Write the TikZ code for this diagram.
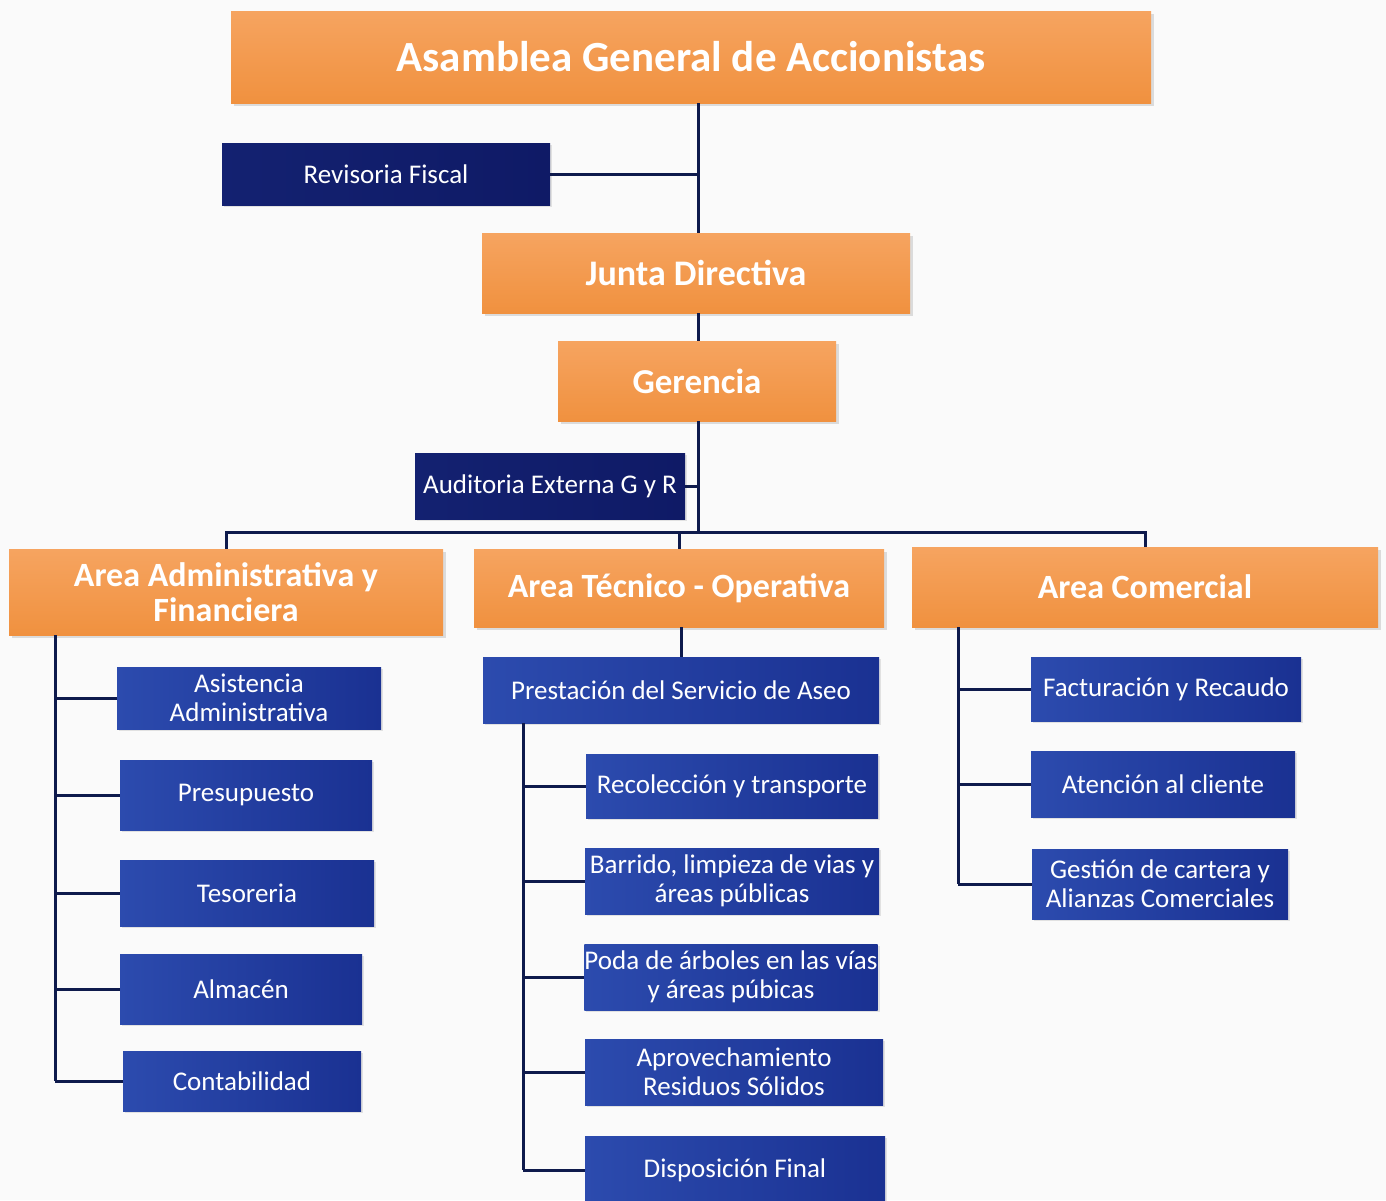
\documentclass[tikz,border=0pt]{standalone}
\usepackage{fontspec}
\setmainfont{Carlito}
\usetikzlibrary{positioning,shadows}
\tikzset{>=stealth}
\definecolor{naranja}{HTML}{F0913F}
\definecolor{naranjaclaro}{HTML}{F6A460}
\definecolor{azul}{HTML}{1A3192}
\definecolor{azulclaro}{HTML}{2C4BAE}
\definecolor{marino}{HTML}{0F1A66}
\definecolor{linea}{HTML}{0E1A4C}
\colorlet{fondo}{white!96!gray}
\tikzset{
	orangebox/.style={rectangle, top color=naranjaclaro, bottom color=naranja, text=white, font=\bfseries, align=center, inner sep=0pt, drop shadow={opacity=.25, shadow xshift=1.5pt, shadow yshift=-1.5pt}},
	bluebox/.style={rectangle, left color=azulclaro, right color=azul, text=white, font=\fontsize{13.5}{14.5}\selectfont, align=center, inner sep=0pt, drop shadow={opacity=.2, shadow xshift=1pt, shadow yshift=-1pt}},
	navybox/.style={bluebox, left color=marino!85!azulclaro, right color=marino},
	link/.style={draw=linea, line width=1.5pt}
}

\begin{document}
\begin{tikzpicture}[x=0.5pt, y=-0.5pt]
				\useasboundingbox[fill=fondo] (0,0) rectangle (1386,1200);
				% direccion
				\node[orangebox, minimum width=460pt, minimum height=46pt, font=\bfseries\fontsize{21.5}{23}\selectfont] (asamblea) at (691,57) {Asamblea General de Accionistas};
				\node[navybox, minimum width=164pt, minimum height=31pt] (revisoria) at (386,174) {Revisoria Fiscal};
				\node[orangebox, minimum width=214pt, minimum height=40pt, font=\bfseries\fontsize{18}{20}\selectfont] (junta) at (696,273) {Junta Directiva};
				\node[orangebox, minimum width=139pt, minimum height=40pt, font=\bfseries\fontsize{17.5}{20}\selectfont] (gerencia) at (697,381) {Gerencia};
				\node[navybox, minimum width=135pt, minimum height=33pt] (auditoria) at (550,486) {Auditoria Externa G y R};
				% areas
				\node[orangebox, minimum width=217pt, minimum height=43pt, font=\bfseries\fontsize{17}{17.5}\selectfont] (areaadm) at (226,592) {Area Administrativa y\\Financiera};
				\node[orangebox, minimum width=205pt, minimum height=39pt, font=\bfseries\fontsize{17}{17.5}\selectfont] (areatec) at (679,588) {Area Técnico - Operativa};
				\node[orangebox, minimum width=233pt, minimum height=40pt, font=\bfseries\fontsize{17}{17.5}\selectfont] (areacom) at (1145,587) {Area Comercial};
				% administrativa
				\node[bluebox, minimum width=132pt, minimum height=31pt] (asistencia) at (249,698) {Asistencia\\Administrativa};
				\node[bluebox, minimum width=126pt, minimum height=35pt] (presupuesto) at (246,795) {Presupuesto};
				\node[bluebox, minimum width=127pt, minimum height=33pt] (tesoreria) at (247,893) {Tesoreria};
				\node[bluebox, minimum width=121pt, minimum height=35pt] (almacen) at (241,989) {Almacén};
				\node[bluebox, minimum width=119pt, minimum height=30pt] (contabilidad) at (242,1081) {Contabilidad};
				% tecnico - operativa
				\node[bluebox, minimum width=198pt, minimum height=33pt] (prestacion) at (681,690) {Prestación del Servicio de Aseo};
				\node[bluebox, minimum width=146pt, minimum height=32pt] (recoleccion) at (732,786) {Recolección y transporte};
				\node[bluebox, minimum width=147pt, minimum height=33pt] (barrido) at (732,881) {Barrido, limpieza de vias y\\áreas públicas};
				\node[bluebox, minimum width=146pt, minimum height=33pt] (poda) at (731,977) {Poda de árboles en las vías\\y áreas púbicas};
				\node[bluebox, minimum width=149pt, minimum height=33pt] (aprovechamiento) at (734,1072) {Aprovechamiento\\Residuos Sólidos};
				\node[bluebox, minimum width=150pt, minimum height=34pt] (disposicion) at (735,1170) {Disposición Final};
				% comercial
				\node[bluebox, minimum width=135pt, minimum height=32pt] (facturacion) at (1166,689) {Facturación y Recaudo};
				\node[bluebox, minimum width=132pt, minimum height=33pt] (atencion) at (1163,784) {Atención al cliente};
				\node[bluebox, minimum width=128pt, minimum height=35pt] (gestion) at (1160,884) {Gestión de cartera y\\Alianzas Comerciales};
				% lineas
				\coordinate (spine) at (698,0);
				\coordinate (bus) at (0,532);
				\coordinate (admspine) at (55,0);
				\coordinate (tecspine) at (523,0);
				\coordinate (comspine) at (958,0);
				\draw[link] (asamblea.south -| spine) -- (junta.north -| spine);
				\draw[link] (revisoria.east) -- (revisoria.east -| spine);
				\draw[link] (junta.south -| spine) -- (gerencia.north -| spine);
				\draw[link] (gerencia.south -| spine) -- (spine |- bus);
				\draw[link] (auditoria.east) -- (auditoria.east -| spine);
				\draw[link] (areaadm.north) -- (areaadm.north |- bus) -- (areacom.north |- bus) -- (areacom.north);
				\draw[link] (areatec.north) -- (areatec.north |- bus);
				\draw[link] (prestacion.north |- areatec.south) -- (prestacion.north);
				\draw[link] (admspine |- areaadm.south) -- (admspine |- contabilidad.west);
				\foreach \hijo in {asistencia,presupuesto,tesoreria,almacen,contabilidad}
					\draw[link] (admspine |- \hijo.west) -- (\hijo.west);
				\draw[link] (tecspine |- prestacion.south) -- (tecspine |- disposicion.west);
				\foreach \hijo in {recoleccion,barrido,poda,aprovechamiento,disposicion}
					\draw[link] (tecspine |- \hijo.west) -- (\hijo.west);
				\draw[link] (comspine |- areacom.south) -- (comspine |- gestion.west);
				\foreach \hijo in {facturacion,atencion,gestion}
					\draw[link] (comspine |- \hijo.west) -- (\hijo.west);
				\end{tikzpicture}
\end{document}
